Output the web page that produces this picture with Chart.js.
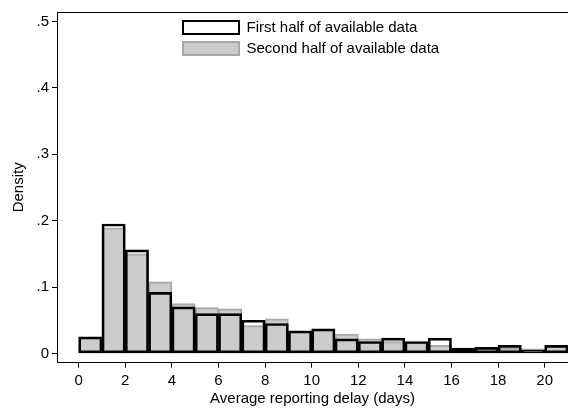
<!DOCTYPE html>
<html>
<head>
<meta charset="utf-8">
<script src="https://cdn.jsdelivr.net/npm/chart.js@4"></script>
<style>
  html, body { margin: 0; padding: 0; background: #fff; }
  #wrap { width: 568px; height: 413px; position: relative; }
</style>
</head>
<body>
<div id="wrap"><canvas id="c" width="568" height="413"></canvas></div>
<script>
// Histogram bins (left edges, width 1 day)
const binStarts = [0,1,2,3,4,5,6,7,8,9,10,11,12,13,14,15,16,17,18,19,20];
const firstHalf = [0.025,0.195,0.156,0.092,0.070,0.060,0.060,0.050,0.045,0.034,0.037,0.022,0.018,0.023,0.018,0.023,0.008,0.009,0.012,0.005,0.012];
const secondHalf = [0.024,0.189,0.150,0.108,0.075,0.069,0.067,0.042,0.052,0.033,0.036,0.029,0.022,0.018,0.017,0.012,0.006,0.009,0.008,0.007,0.011];
const xTickValues = [0,2,4,6,8,10,12,14,16,18,20];
const yTickValues = [0,0.1,0.2,0.3,0.4,0.5];
const yTickLabels = ["0",".1",".2",".3",".4",".5"];
const seriesNames = ["First half of available data","Second half of available data"];

const FONT = "'Liberation Sans', Arial, Helvetica, sans-serif";
Chart.defaults.font.family = FONT;
Chart.defaults.font.size = 15;
Chart.defaults.color = '#000';

const toPoints = arr => arr.map((v, i) => ({x: binStarts[i] + 0.5, y: v}));

const framePlugin = {
  id: 'frame',
  afterLayout(chart) {
    const lg = chart.legend;
    if (lg) { lg.left += 120; lg.right += 120; lg.top += 14; lg.bottom += 14; }
  },
  afterDraw(chart) {
    const {ctx, chartArea} = chart;
    ctx.save();
    ctx.strokeStyle = '#000';
    ctx.lineWidth = 1;
    ctx.beginPath();
    ctx.moveTo(chartArea.left, chartArea.top + 0.5);
    ctx.lineTo(chartArea.right, chartArea.top + 0.5);
    ctx.stroke();
    ctx.restore();
  }
};

new Chart(document.getElementById('c'), {
  type: 'bar',
  data: {
    datasets: [
      {
        label: seriesNames[0],
        data: toPoints(firstHalf),
        backgroundColor: 'rgba(255,255,255,0)',
        borderColor: '#000',
        borderWidth: 2,
        borderSkipped: false,
        barPercentage: 1,
        categoryPercentage: 1,
        grouped: false
      },
      {
        label: seriesNames[1],
        data: toPoints(secondHalf),
        backgroundColor: '#cccccc',
        borderColor: '#a8a8a8',
        borderWidth: 2,
        borderSkipped: false,
        barPercentage: 1,
        categoryPercentage: 1,
        grouped: false
      }
    ]
  },
  options: {
    responsive: false,
    animation: false,
    layout: { padding: { top: 8.7, right: 0, left: 0, bottom: 0 } },
    plugins: {
      legend: {
        position: 'chartArea',
        align: 'start',
        labels: {
          boxWidth: 56,
          boxHeight: 13,
          padding: 6,
          color: '#000',
          font: { size: 15 }
        }
      },
      tooltip: { enabled: false }
    },
    scales: {
      x: {
        type: 'linear',
        min: -0.93,
        max: 21.0,
        offset: false,
        afterBuildTicks: s => { s.ticks = xTickValues.map(v => ({value: v})); },
        afterFit: s => { s.height = 50.3; },
        ticks: { autoSkip: false, maxRotation: 0, padding: 4, color: '#000', font: { size: 15 } },
        grid: { display: true, drawOnChartArea: false, drawTicks: true, tickLength: 5, color: '#000', offset: false },
        border: { display: true, color: '#000', width: 1 },
        title: { display: true, text: 'Average reporting delay (days)', color: '#000', font: { size: 15 }, padding: { top: 2, bottom: 5 } }
      },
      y: {
        type: 'linear',
        min: -0.014,
        max: 0.5143,
        afterBuildTicks: s => { s.ticks = yTickValues.map(v => ({value: v})); },
        afterFit: s => { s.width = 57; },
        ticks: {
          autoSkip: false,
          padding: 3,
          color: '#000',
          font: { size: 15 },
          callback: (v) => { const i = yTickValues.findIndex(t => Math.abs(t - v) < 1e-9); return i >= 0 ? yTickLabels[i] : ''; }
        },
        grid: { display: true, drawOnChartArea: false, drawTicks: true, tickLength: 5, color: '#000' },
        border: { display: true, color: '#000', width: 1 },
        title: { display: true, text: 'Density', color: '#000', font: { size: 15 }, padding: { top: 10, bottom: 0 } }
      }
    }
  },
  plugins: [framePlugin]
});
</script>
</body>
</html>
